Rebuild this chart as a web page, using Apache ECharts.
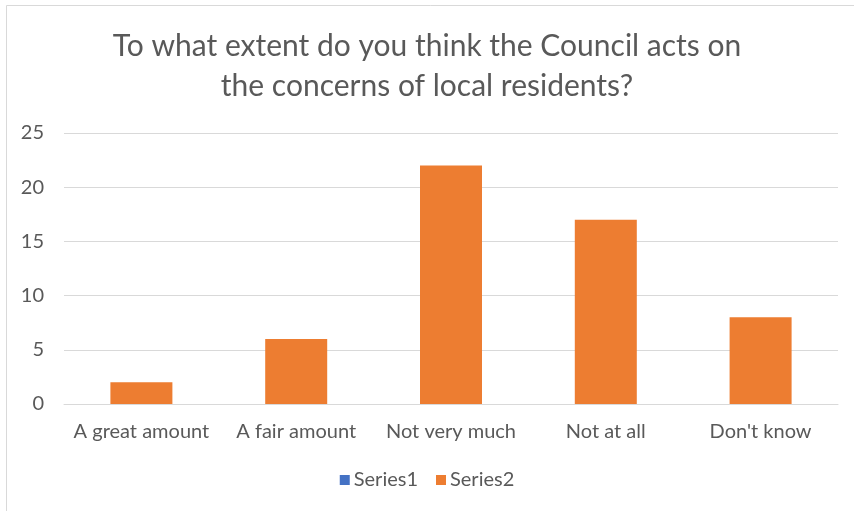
<!DOCTYPE html>
<html>
<head>
<meta charset="utf-8">
<script src="https://cdn.jsdelivr.net/npm/echarts@6/dist/echarts.min.js"></script>
<style>
  html, body { margin: 0; padding: 0; background: #fff; }
  #chart { width: 854px; height: 511px; }
</style>
</head>
<body>
<div id="chart"></div>
<script>
// Survey responses
const categories = ['A great amount', 'A fair amount', 'Not very much', 'Not at all', "Don't know"];
const series1 = [null, null, null, null, null];
const series2 = [2, 6, 22, 17, 8];
const yTicks = { min: 0, max: 25, interval: 5 };

const FONT = 'Lato';
const TEXT = '#595959';

const chart = echarts.init(document.getElementById('chart'), null, { renderer: 'canvas' });
chart.setOption({
  backgroundColor: '#fff',
  animation: false,
  title: {
    text: 'To what extent do you think the Council acts on\nthe concerns of local residents?',
    left: 'center',
    top: 21,
    textStyle: { fontFamily: FONT, fontSize: 30, fontWeight: 'normal', color: TEXT, lineHeight: 40 }
  },
  graphic: [{
    type: 'rect',
    shape: { x: 6.5, y: 5.5, width: 1000, height: 1000 },
    style: { fill: 'none', stroke: '#d9d9d9', lineWidth: 1 },
    silent: true
  }],
  legend: {
    bottom: 16,
    left: 'center',
    itemWidth: 10,
    itemHeight: 10,
    itemGap: 18,
    icon: 'rect',
    textStyle: { fontFamily: FONT, fontSize: 20, color: TEXT, padding: [0, 0, 0, -1] },
    data: ['Series1', 'Series2']
  },
  grid: { left: 64, right: 16, top: 133, bottom: 107, containLabel: false },
  xAxis: {
    type: 'category',
    data: categories,
    axisLine: { lineStyle: { color: '#d9d9d9', width: 1 } },
    axisTick: { show: false },
    axisLabel: { fontFamily: FONT, fontSize: 20, color: TEXT, margin: 18, interval: 0 }
  },
  yAxis: {
    type: 'value',
    min: yTicks.min,
    max: yTicks.max,
    interval: yTicks.interval,
    axisLine: { show: false },
    axisTick: { show: false },
    splitLine: { lineStyle: { color: '#d9d9d9', width: 1 } },
    axisLabel: { fontFamily: FONT, fontSize: 20, color: TEXT, margin: 20 }
  },
  series: [
    { name: 'Series1', type: 'bar', data: series1, itemStyle: { color: '#4472C4' }, barWidth: 62, barGap: '-100%' },
    { name: 'Series2', type: 'bar', data: series2, itemStyle: { color: '#ED7D31' }, barWidth: 62 }
  ]
});
</script>
</body>
</html>
